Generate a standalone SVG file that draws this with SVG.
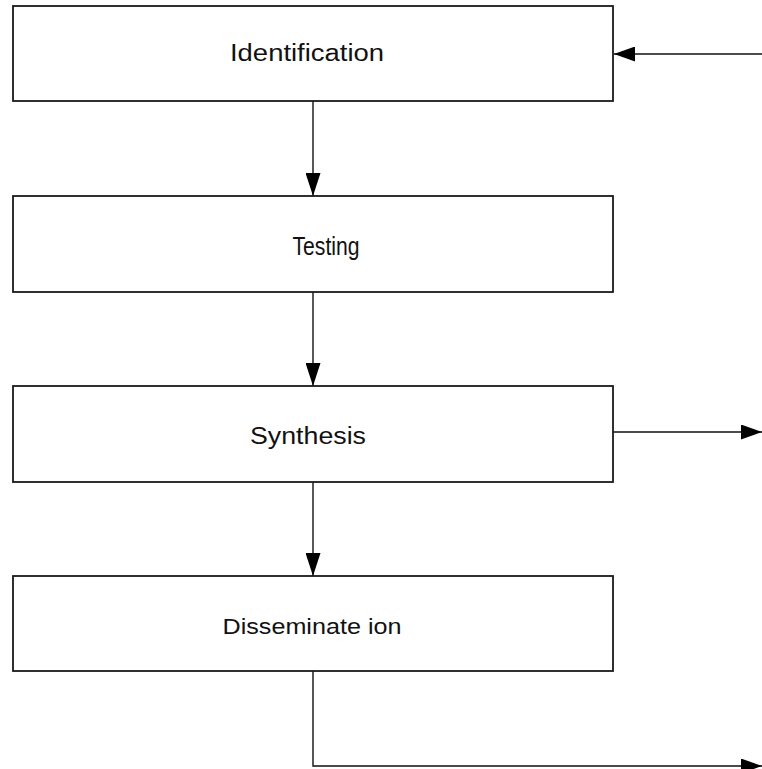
<svg xmlns="http://www.w3.org/2000/svg" width="762" height="769" viewBox="0 0 762 769">
<style>
.box{fill:#fff;stroke:#1a1a1a;stroke-width:1.8}
.lbl{font-family:"Liberation Sans",Arial,sans-serif;fill:#111;text-anchor:middle}
.con{fill:none;stroke:#111;stroke-width:1.4}
</style>
<defs>
<marker id="ah" viewBox="0 0 21 15" refX="21" refY="7.5" markerWidth="21" markerHeight="15" markerUnits="userSpaceOnUse" orient="auto">
<path d="M0,0 L21,7.5 L0,15 Z" fill="#000"/>
</marker>
<marker id="av" viewBox="0 0 23 15" refX="23" refY="7.5" markerWidth="23" markerHeight="15" markerUnits="userSpaceOnUse" orient="auto">
<path d="M0,0 L23,7.5 L0,15 Z" fill="#000"/>
</marker>
</defs>
<g id="connectors">
<line class="con" x1="762" y1="54" x2="614" y2="54" marker-end="url(#ah)"/>
<line class="con" x1="313" y1="101" x2="313" y2="196" marker-end="url(#av)"/>
<line class="con" x1="313" y1="292" x2="313" y2="386" marker-end="url(#av)"/>
<line class="con" x1="613" y1="432" x2="762" y2="432" marker-end="url(#ah)"/>
<line class="con" x1="313" y1="482" x2="313" y2="576" marker-end="url(#av)"/>
<polyline class="con" points="313,671 313,766 762,766" marker-end="url(#ah)"/>
</g>
<g id="identification">
<rect class="box" x="13" y="6" width="600" height="95"/>
<text class="lbl" x="307" y="61" font-size="23" textLength="154" lengthAdjust="spacingAndGlyphs">Identification</text>
</g>
<g id="testing">
<rect class="box" x="13" y="196" width="600" height="96"/>
<text class="lbl" x="326" y="255" font-size="26" textLength="67" lengthAdjust="spacingAndGlyphs">Testing</text>
</g>
<g id="synthesis">
<rect class="box" x="13" y="386" width="600" height="96"/>
<text class="lbl" x="308" y="444" font-size="23" textLength="116" lengthAdjust="spacingAndGlyphs">Synthesis</text>
</g>
<g id="dissemination">
<rect class="box" x="13" y="576" width="600" height="95"/>
<text class="lbl" x="312" y="634" font-size="22" textLength="179" lengthAdjust="spacingAndGlyphs">Disseminate ion</text>
</g>
</svg>
